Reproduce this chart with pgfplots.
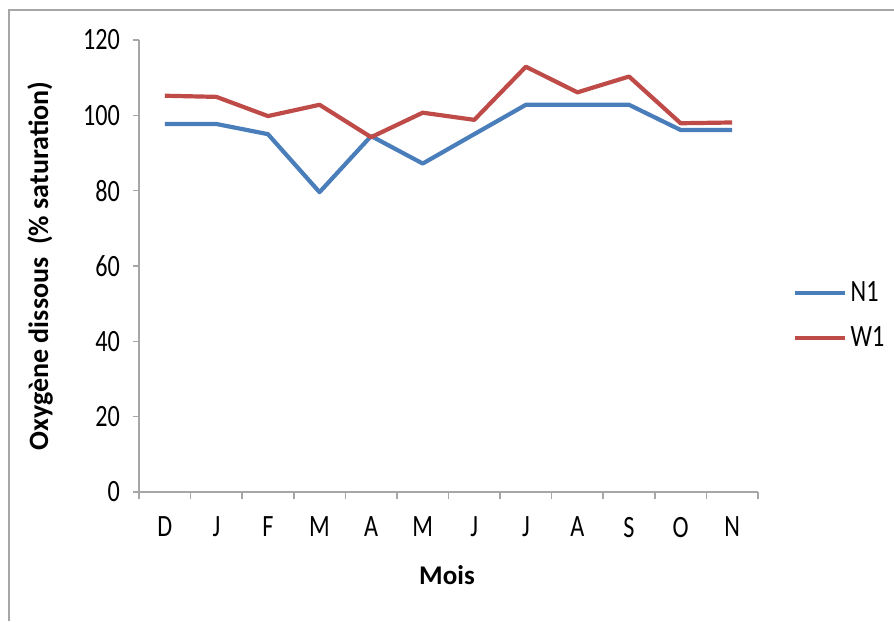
\documentclass[border=0pt]{standalone}
\usepackage{fontspec}
\setmainfont{Carlito}
\newfontfamily\tickfont[FakeStretch=0.78]{Carlito}
\usepackage{pgfplots}
\pgfplotsset{compat=1.18}
\definecolor{nblue}{HTML}{4A7EBB}
\definecolor{wred}{HTML}{BE4B48}
\definecolor{axgray}{HTML}{A6A6A6}
\begin{document}
\begin{tikzpicture}
\useasboundingbox (0,0) rectangle (447pt,310.5pt);
\draw[color=gray!70, line width=0.8pt] (4.5pt,0) -- (4.5pt,305.5pt) -- (447pt,305.5pt);
\begin{axis}[
  at={(69.5pt,64.5pt)}, anchor=south west,
  scale only axis, width=309.5pt, height=226pt,
  xmin=-0.5, xmax=11.5, ymin=0, ymax=120,
  axis x line*=bottom, axis y line*=left,
  axis line style={axgray, line width=0.8pt, -},
  xtick={0,...,11}, xticklabels={D,J,F,M,A,M,J,J,A,S,O,N},
  major x tick style={draw=none},
  minor xtick={-0.5,0.5,...,11.5},
  ytick={0,20,...,120},
  tick align=outside,
  tick style={axgray, line width=0.8pt},
  major tick length=3pt, minor tick length=3.5pt,
  ticklabel style={font=\tickfont\fontsize{15.5}{18}\selectfont},
  /pgf/number format/assume math mode=true,
  xticklabel style={yshift=-6pt},
  yticklabel style={xshift=-3pt},
  legend style={at={(1.055,0.39)}, anchor=west, draw=none, fill=none,
    font=\tickfont\fontsize{15.5}{18}\selectfont, row sep=7pt, inner sep=0pt},
  legend cell align=left,
  legend image code/.code={\draw[#1] (0pt,0pt) -- (25pt,0pt);},
]
\addplot[nblue, line width=2.1pt, line join=round] coordinates {
 (0,97.7) (1,97.7) (2,95.0) (3,79.6) (4,94.5) (5,87.2) (6,95.0) (7,102.8) (8,102.8) (9,102.8) (10,96.1) (11,96.1)};
\addlegendentry{N1}
\addplot[wred, line width=2.1pt, line join=round] coordinates {
 (0,105.2) (1,104.9) (2,99.8) (3,102.8) (4,94.2) (5,100.7) (6,98.8) (7,112.9) (8,106.1) (9,110.3) (10,97.9) (11,98.1)};
\addlegendentry{W1}
\end{axis}
\node[font=\bfseries\fontsize{14}{16}\selectfont, rotate=90] at (20pt,177.5pt) {Oxygène dissous~~(\% saturation)};
\node[font=\bfseries\fontsize{13.5}{16}\selectfont] at (223.5pt,23pt) {Mois};
\end{tikzpicture}
\end{document}
